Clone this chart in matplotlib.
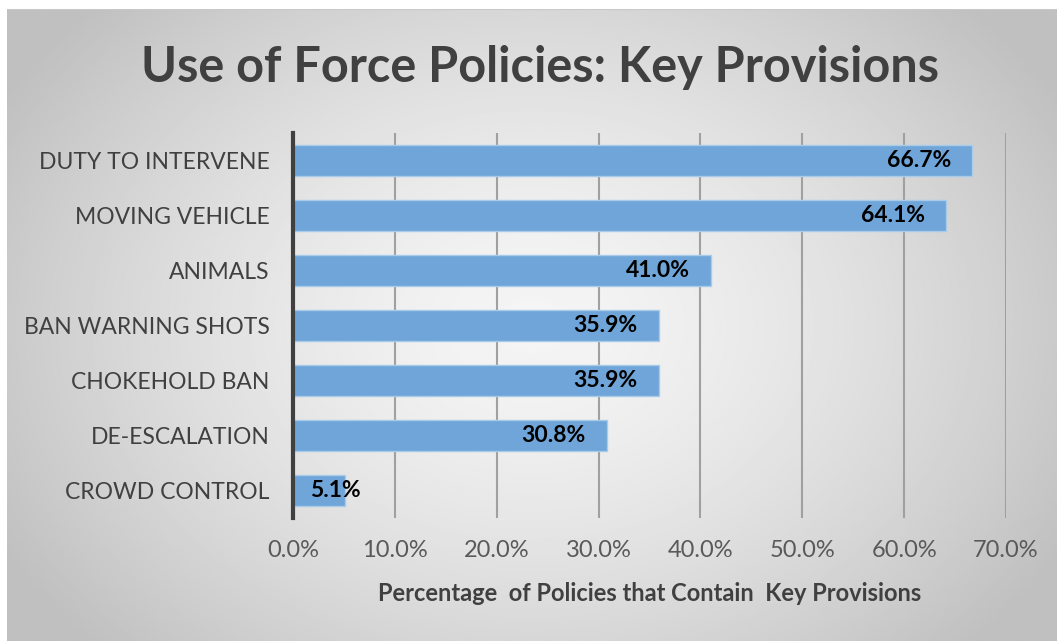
import numpy as np
import matplotlib.pyplot as plt

categories = ["DUTY TO INTERVENE", "MOVING VEHICLE", "ANIMALS", "BAN WARNING SHOTS",
              "CHOKEHOLD BAN", "DE-ESCALATION", "CROWD CONTROL"]
values = [66.7, 64.1, 41.0, 35.9, 35.9, 30.8, 5.1]
xticks = [0, 10, 20, 30, 40, 50, 60, 70]

plt.rcParams['font.family'] = ['Lato', 'DejaVu Sans']

W, H = 1057, 641
fig = plt.figure(figsize=(W / 100, H / 100), dpi=100, facecolor='white')

# radial gradient background like the Excel chart area
bg = fig.add_axes([7 / W, 0, 1 - 7 / W, 1 - 9 / H], zorder=-1)
yy, xx = np.mgrid[-1:1:300j, -1:1:500j]
r = np.sqrt((xx * 0.95) ** 2 + (yy * 0.75) ** 2)
shade = np.clip(0.96 - 0.18 * r ** 1.5, 0.75, 0.96)
bg.imshow(shade, cmap='gray', vmin=0, vmax=1, aspect='auto', extent=[0, 1, 0, 1])
bg.plot([0, 1], [1, 1], color='#c8c8c8', lw=1.5)
bg.set_xlim(0, 1)
bg.set_ylim(0, 1)
bg.axis('off')

ax = fig.add_axes([293 / W, 1 - 518 / H, (1006 - 293) / W, (518 - 133) / H])
ax.patch.set_alpha(0)

y = np.arange(len(categories))
ax.barh(y, values, height=0.56, color='#6fa5d8', edgecolor='#a9cbea', linewidth=1, zorder=2)

for yi, v in zip(y, values):
    if v > 10:
        ax.annotate(f"{v:.1f}%", (v, yi), xytext=(-15, 0), textcoords='offset points',
                    ha='right', va='center', fontsize=16.5, fontweight='bold', color='black', zorder=3)
    else:
        ax.annotate(f"{v:.1f}%", (0, yi), xytext=(12, 0), textcoords='offset points',
                    ha='left', va='center', fontsize=16.5, fontweight='bold', color='black', zorder=3)

ax.set_ylim(len(categories) - 0.5, -0.5)
ax.set_xlim(0, 70)
ax.set_yticks(y)
ax.set_yticklabels(categories, fontsize=16.5, color='#404040')
ax.set_xticks(xticks)
ax.set_xticklabels([f"{t:.1f}%" for t in xticks], fontsize=17, color='#595959')
ax.tick_params(axis='both', length=0)
ax.tick_params(axis='y', pad=17)
ax.tick_params(axis='x', pad=16)
ax.grid(axis='x', color='#a0a0a0', linewidth=1.5, zorder=0)
for s in ['top', 'right', 'bottom']:
    ax.spines[s].set_visible(False)
ax.spines['left'].set_color('#404040')
ax.spines['left'].set_linewidth(3)
ax.spines['left'].set_zorder(4)

ax.set_xlabel("Percentage  of Policies that Contain  Key Provisions", fontsize=17,
              fontweight='bold', color='#404040', labelpad=15)

fig.text(540 / W, 1 - 68 / H, "Use of Force Policies: Key Provisions", ha='center', va='center',
         fontsize=35, fontweight='bold', color='#404040')

fig.savefig('out.png', dpi=100, facecolor=fig.get_facecolor())
